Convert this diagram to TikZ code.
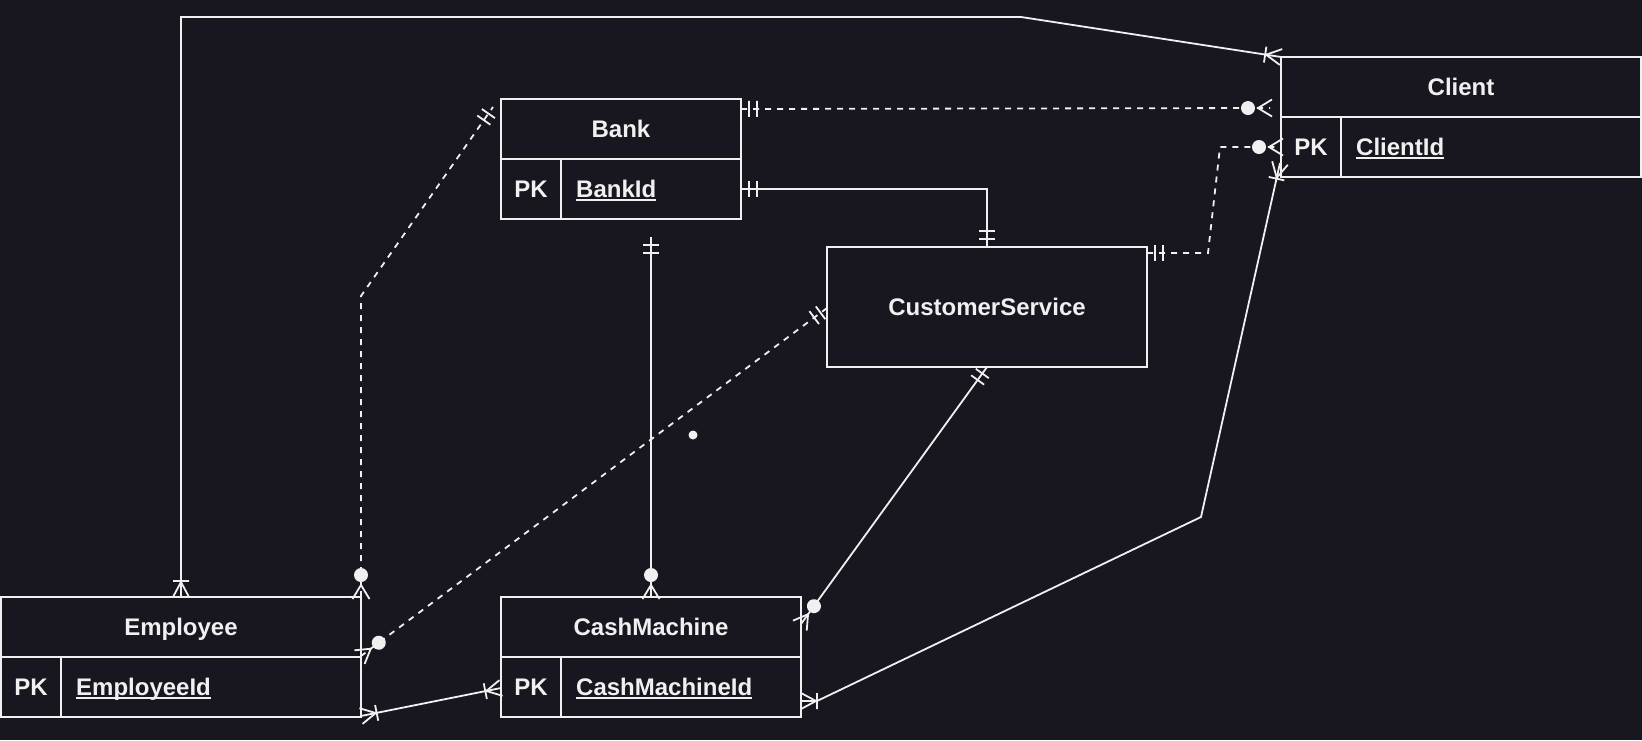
\documentclass[tikz,border=0pt]{standalone}
\usepackage{fontspec}
\setmainfont{Liberation Sans}
\usetikzlibrary{calc,decorations.markings}
\definecolor{bgc}{HTML}{18161F}
\definecolor{fgc}{HTML}{F0F0F0}
\newsavebox\ulbox
\newcommand\ulin[1]{\sbox\ulbox{#1}\rlap{\rule[-3.5pt]{\wd\ulbox}{2pt}}\usebox\ulbox}
\newcommand\erBars{\draw[solid,line width=1.8pt,fgc] (8,-8) -- (8,8) (16,-8) -- (16,8);}
\newcommand\erFootBar{\draw[solid,line width=1.8pt,fgc] (0,-8) -- (15,0) -- (0,8) (16,-8) -- (16,8);}
\newcommand\erFootRing{\draw[solid,line width=1.8pt,fgc] (-2,-8.5) -- (12,0) -- (-2,8.5); \fill[fgc] (22,0) circle[radius=7pt];}
\begin{document}
\begin{tikzpicture}[x=1pt,y=-1pt,
  ent/.style={draw=fgc,line width=2pt,fill=bgc,anchor=north west,inner sep=0pt,outer sep=0pt},
  lbl/.style={text=fgc,font=\fontsize{24}{28}\selectfont\bfseries,inner sep=0pt,text height=17pt,text depth=0pt},
  conn/.style={draw=fgc,line width=1.8pt},
  dsh/.style={dash pattern=on 6pt off 6pt},
  er/.style 2 args={postaction={decorate,decoration={markings,
     mark=at position 0 with {#1},
     mark=at position 1 with {\begin{scope}[rotate=180]#2\end{scope}}}}}
]
\fill[bgc] (0,0) rectangle (1642,740);
\useasboundingbox (0,0) rectangle (1642,740);

% Client
\node[ent,minimum width=360pt,minimum height=60pt] (cliH) at (1281,57) {};
\node[ent,minimum width=60pt,minimum height=60pt] (cliPK) at (1281,117) {};
\node[ent,minimum width=300pt,minimum height=60pt] (cliA) at (1341,117) {};
\node[lbl] (cliT) at (cliH.center) {Client};
\node[lbl] (cliPKT) at (cliPK.center) {PK};
\node[lbl,anchor=west] (cliAT) at ([xshift=15pt]cliA.west) {\ulin{ClientId}};

% Bank
\node[ent,minimum width=240pt,minimum height=60pt] (bankH) at (501,99) {};
\node[ent,minimum width=60pt,minimum height=60pt] (bankPK) at (501,159) {};
\node[ent,minimum width=180pt,minimum height=60pt] (bankA) at (561,159) {};
\node[lbl] (bankT) at (bankH.center) {Bank};
\node[lbl] (bankPKT) at (bankPK.center) {PK};
\node[lbl,anchor=west] (bankAT) at ([xshift=15pt]bankA.west) {\ulin{BankId}};

% CustomerService
\node[ent,minimum width=320pt,minimum height=120pt] (cs) at (827,247) {};
\node[lbl] (csT) at (cs.center) {CustomerService};

% Employee
\node[ent,minimum width=360pt,minimum height=60pt] (empH) at (1,597) {};
\node[ent,minimum width=60pt,minimum height=60pt] (empPK) at (1,657) {};
\node[ent,minimum width=300pt,minimum height=60pt] (empA) at (61,657) {};
\node[lbl] (empT) at (empH.center) {Employee};
\node[lbl] (empPKT) at (empPK.center) {PK};
\node[lbl,anchor=west] (empAT) at ([xshift=15pt]empA.west) {\ulin{EmployeeId}};

% CashMachine
\node[ent,minimum width=300pt,minimum height=60pt] (cmH) at (501,597) {};
\node[ent,minimum width=60pt,minimum height=60pt] (cmPK) at (501,657) {};
\node[ent,minimum width=240pt,minimum height=60pt] (cmA) at (561,657) {};
\node[lbl] (cmT) at (cmH.center) {CashMachine};
\node[lbl] (cmPKT) at (cmPK.center) {PK};
\node[lbl,anchor=west] (cmAT) at ([xshift=15pt]cmA.west) {\ulin{CashMachineId}};

% waypoints
\coordinate (w1a) at (181,17);
\coordinate (w1b) at (1021,17);
\coordinate (w3a) at (1208,253);
\coordinate (w3b) at (1220,147);
\coordinate (w4a) at (817,701);
\coordinate (w4b) at (1201,517);
\coordinate (w5) at (651,237);
\coordinate (w7) at (361,296);

% connectors
\draw[conn,er={\erFootBar}{\erFootBar}] (empH.north) -- (w1a) -- (w1b) -- (cliH.north west);
\draw[conn,dsh,er={\erBars}{\erFootRing}] ($(bankH.north east)+(0,10)$) -- ($(cliH.north west)+(-11,51)$);
\draw[conn,dsh,er={\erBars}{\erFootRing}] ($(cs.north east)+(0,6)$) -- (w3a) -- (w3b) -- (cliPK.west);
\draw[conn,er={\erFootBar}{\erFootBar}] ($(cmA.east)+(0,14)$) -- (w4a) -- (w4b) -- ($(cliPK.south west)+(-1,-14)$);
\draw[conn,er={\erBars}{\erFootRing}] (w5) -- (cmH.north);
\draw[conn,er={\erBars}{\erBars}] (bankA.east) -- (cs.north |- bankA.east) -- (cs.north);
\draw[conn,dsh,er={\erFootRing}{\erBars}] (empH.north east) -- (w7) -- ($(bankH.north west)+(-8,8)$);
\draw[conn,dsh,er={\erBars}{\erFootRing}] ($(cs.west)+(0,1)$) -- ($(empH.south east)+(0,-1)$);
\draw[conn,er={\erBars}{\erFootRing}] (cs.south) -- ($(cmH.east)+(0,-3)$);
\draw[conn,er={\erFootBar}{\erFootBar}] ($(empA.south east)+(0,-1)$) -- ($(cmPK.west)+(0,1)$);

\fill[fgc] (693,435) circle[radius=4.5pt];
\end{tikzpicture}
\end{document}
